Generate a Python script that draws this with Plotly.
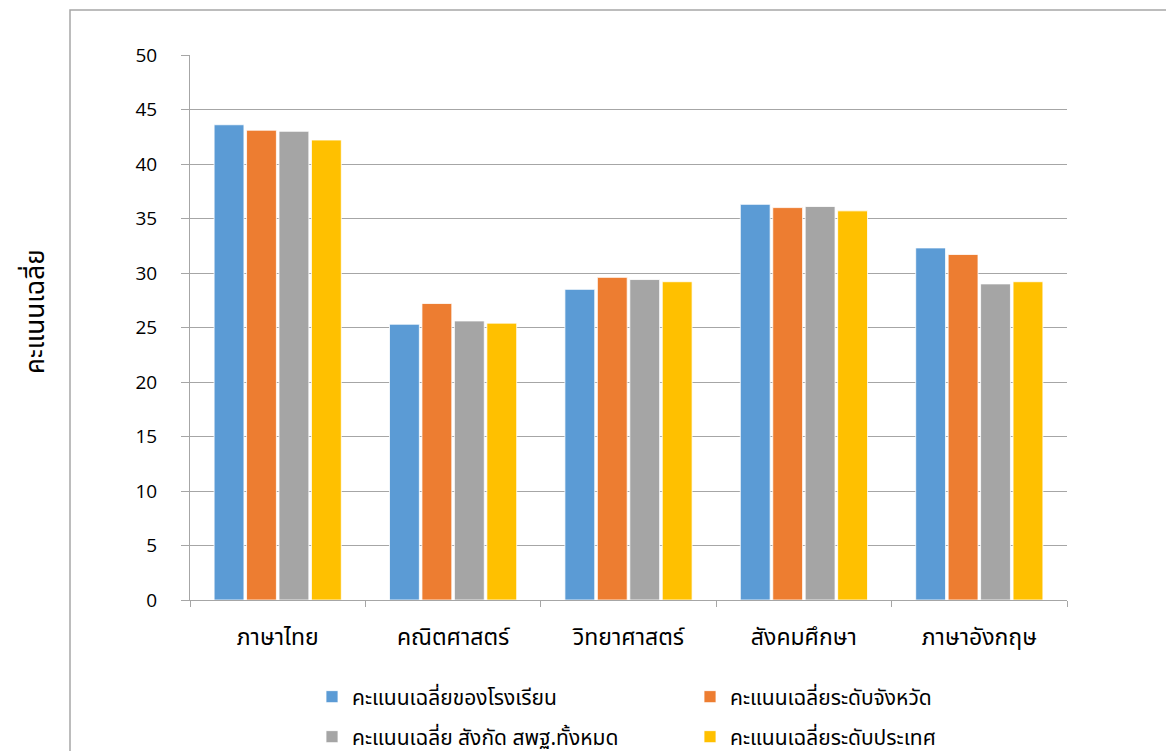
import plotly.graph_objects as go

categories = ["ภาษาไทย", "คณิตศาสตร์", "วิทยาศาสตร์", "สังคมศึกษา", "ภาษาอังกฤษ"]
series_names = [
    "คะแนนเฉลี่ยของโรงเรียน",
    "คะแนนเฉลี่ยระดับจังหวัด",
    "คะแนนเฉลี่ย สังกัด สพฐ.ทั้งหมด",
    "คะแนนเฉลี่ยระดับประเทศ",
]
school = [43.6, 25.3, 28.5, 36.3, 32.3]
province = [43.1, 27.2, 29.6, 36.0, 31.7]
obec = [43.0, 25.6, 29.4, 36.1, 29.0]
national = [42.2, 25.4, 29.2, 35.7, 29.2]
y_ticks = [0, 5, 10, 15, 20, 25, 30, 35, 40, 45, 50]
y_title = "คะแนนเฉลี่ย"

colors = ["#5B9BD5", "#ED7D31", "#A5A5A5", "#FFC000"]
legends = ["legend", "legend", "legend2", "legend2"]
values = [school, province, obec, national]

# page has an 8px body margin: work in page pixels, then offset
OFF = 8
W, H = 1174 - OFF, 751 - OFF
L, R, T, B = 190 - OFF, 1067 - OFF, 55 - OFF, 600 - OFF
pw, ph = R - L, B - T

def px(x):
    return (x - OFF - L) / pw

def py(y):
    return (B - (y - OFF)) / ph

thai_font = "Noto Sans Thai, Noto Sans, Loma, Garuda, sans-serif"

fig = go.Figure()
for name, vals, c, lg in zip(series_names, values, colors, legends):
    fig.add_trace(go.Bar(
        x=categories, y=vals, name=name, legend=lg,
        marker=dict(color=c, line=dict(color="white", width=0.8)),
    ))

leg_common = dict(orientation="h", xanchor="left", yanchor="middle",
                  entrywidth=333, entrywidthmode="pixels",
                  font=dict(size=21, family=thai_font, color="#000"),
                  bgcolor="rgba(0,0,0,0)", itemwidth=30)

fig.update_layout(
    width=W, height=H,
    margin=dict(l=L, r=W - R, t=T, b=H - B, autoexpand=False),
    paper_bgcolor="white", plot_bgcolor="white",
    barmode="group", bargap=0.26, bargroupgap=0.08,
    font=dict(family=thai_font, color="#000000"),
    legend=dict(x=px(312), y=py(697), **leg_common),
    legend2=dict(x=px(312), y=py(737), **leg_common),
    showlegend=True,
)
fig.update_yaxes(
    range=[0, 50], tickvals=y_ticks, showgrid=True, gridcolor="#A6A6A6", gridwidth=1,
    showline=True, linecolor="#A6A6A6", linewidth=1,
    ticks="outside", ticklen=8, tickcolor="#A6A6A6", ticklabelstandoff=20,
    tickfont=dict(size=19, family="Open Sans, Noto Sans, sans-serif", color="#000"),
    zeroline=False, fixedrange=True, automargin=False,
)
fig.update_xaxes(
    showline=True, linecolor="#A6A6A6", linewidth=1,
    ticks="outside", ticklen=6, tickcolor="#A6A6A6", tickson="boundaries",
    ticklabelstandoff=16,
    tickfont=dict(size=23, family=thai_font, color="#000"), automargin=False,
)
fig.add_annotation(
    text=y_title, textangle=-90, xref="paper", yref="paper",
    x=px(36), y=py(312), xanchor="center", yanchor="middle",
    showarrow=False, font=dict(size=26, family=thai_font, color="#000"),
)
fig.add_shape(
    type="rect", xref="paper", yref="paper",
    x0=px(70), x1=px(1200), y0=py(10), y1=py(780),
    line=dict(color="#A6A6A6", width=1.5), fillcolor="rgba(0,0,0,0)", layer="below",
)

fig.write_html("out.html")
